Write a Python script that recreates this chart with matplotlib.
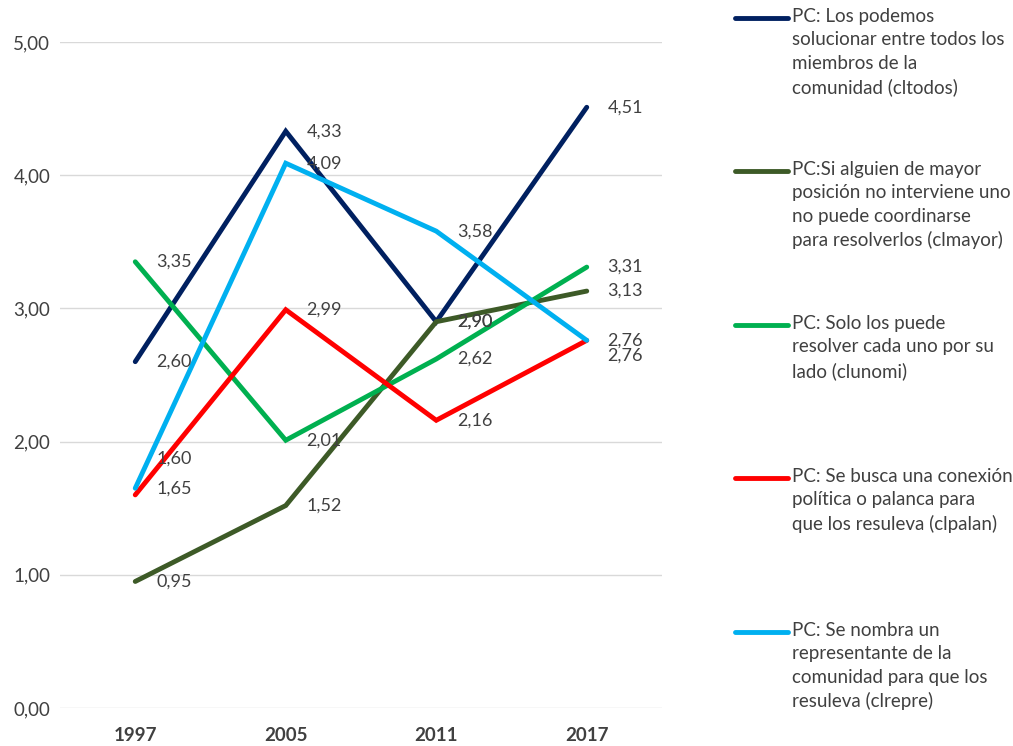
import matplotlib.pyplot as plt
from matplotlib.lines import Line2D

plt.rcParams['font.family'] = ['Lato', 'DejaVu Sans']

years = ['1997', '2005', '2011', '2017']

cltodos = [2.60, 4.33, 2.90, 4.51]
clmayor = [0.95, 1.52, 2.90, 3.13]
clunomi = [3.35, 2.01, 2.62, 3.31]
clpalan = [1.60, 2.99, 2.16, 2.76]
clrepre = [1.65, 4.09, 3.58, 2.76]

labels = [
    'PC: Los podemos\nsolucionar entre todos los\nmiembros de la\ncomunidad (cltodos)',
    'PC:Si alguien de mayor\nposición no interviene uno\nno puede coordinarse\npara resolverlos (clmayor)',
    'PC: Solo los puede\nresolver cada uno por su\nlado (clunomi)',
    'PC: Se busca una conexión\npolítica o palanca para\nque los resuleva (clpalan)',
    'PC: Se nombra un\nrepresentante de la\ncomunidad para que los\nresuleva (clrepre)',
]
colors = ['#002060', '#3d5a27', '#00b050', '#ff0000', '#00b0f0']
series = [cltodos, clmayor, clunomi, clpalan, clrepre]

# label tweaks (points), like the manual moves in the original
nudge = {(3, 0): 26, (4, 3): -11}

txt = '#404040'
fig = plt.figure(figsize=(10.13, 7.46), dpi=100)
ax = fig.add_axes([60 / 1013, 38 / 746, 602 / 1013, 666 / 746])

x = range(len(years))
for i, (vals, c) in enumerate(zip(series, colors)):
    ax.plot(x, vals, color=c, lw=3.5, solid_capstyle='round', solid_joinstyle='miter', zorder=3 + (i == 4))
    for j, v in enumerate(vals):
        ax.annotate(f'{v:.2f}'.replace('.', ','), (j, v), xytext=(15, nudge.get((i, j), 0)),
                    textcoords='offset points', va='center', ha='left',
                    fontsize=13, color=txt, zorder=6)

ax.set_xlim(-0.5, 3.5)
ax.set_ylim(0, 5)
ax.set_yticks([0, 1, 2, 3, 4, 5])
ax.set_yticklabels([f'{t:.2f}'.replace('.', ',') for t in range(6)])
ax.set_xticks(list(x))
ax.set_xticklabels(years, fontweight='bold')
ax.tick_params(length=0, labelsize=13.5, colors=txt)
ax.tick_params(axis='y', pad=7)
ax.tick_params(axis='x', pad=14)
ax.grid(axis='y', color='#d9d9d9', lw=1)
ax.set_axisbelow(True)
for s in ax.spines.values():
    s.set_visible(False)

# legend on the right
ytop = [18, 171, 325, 478, 632]
for lab, c, yp in zip(labels, colors, ytop):
    yf = 1 - yp / 746
    fig.add_artist(Line2D([735 / 1013, 788 / 1013], [yf, yf], color=c, lw=3.5,
                          solid_capstyle='round', transform=fig.transFigure))
    fig.text(792 / 1013, yf + 10 / 746, lab, ha='left', va='top', fontsize=13.5,
             color=txt, linespacing=1.45)

fig.savefig('out.png', dpi=100)
